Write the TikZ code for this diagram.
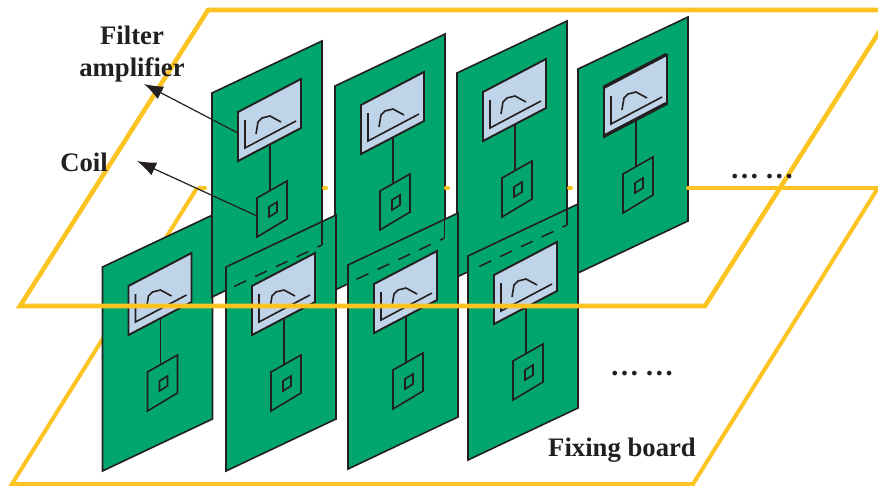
\documentclass[tikz,border=0pt]{standalone}
\usepackage{fontspec}
\setmainfont{Liberation Serif}
\usetikzlibrary{arrows.meta}
\definecolor{brdgreen}{HTML}{00A66C}
\definecolor{scrblue}{HTML}{BFD4E8}
\definecolor{sheetyel}{HTML}{FBC423}
\definecolor{inkblk}{HTML}{231F20}
\tikzset{
  boardface/.style={fill=brdgreen,draw=inkblk,line width=1.6pt,line join=miter},
  screenface/.style={fill=scrblue,draw=inkblk,line width=1.9pt,line join=miter},
  trace/.style={draw=inkblk,line width=1.6pt},
  sheet/.style={draw=sheetyel,line width=4pt,line join=miter},
  topsheet/.style={draw=sheetyel,line width=4.6pt,line join=miter},
  stub/.style={draw=sheetyel,line width=4pt,line cap=round},
  hidden/.style={draw=inkblk,line width=1.5pt,dash pattern=on 13pt off 10pt,dash phase=8pt},
  pointer/.style={draw=inkblk,line width=1.2pt,-{Latex[length=19pt,width=14pt]}},
  caption/.style={font=\fontsize{26.7}{28}\selectfont\bfseries,text=inkblk,inner sep=0pt,align=center},
  dots/.style={font=\fontsize{29}{30}\selectfont\bfseries,text=inkblk,inner sep=0pt}
}
\newcommand{\pcbboard}[2]{%
\begin{scope}[shift={(#1,#2)}]
  \path[boardface] (0,0) -- (110,-52) -- (110,152) -- (0,204) -- cycle;
  \path[screenface] (26,19) -- (89,-14) -- (89,35) -- (26,68) -- cycle;
  \path[trace] (33,27) -- (33,55) -- (84,28);
  \path[trace] (44,41) -- (46,29) -- (50,25) -- (58,23) -- (69,29);
  \path[trace] (58,51) -- (58,105);
  \path[trace,fill=brdgreen] (45,105) -- (75,88) -- (75,126) -- (45,144) -- cycle;
  \path[trace] (57,114) -- (65,109) -- (65,119) -- (57,124) -- cycle;
\end{scope}}
\begin{document}
\begin{tikzpicture}[x=1pt,y=-1pt]
\useasboundingbox (0,0) rectangle (878,485);
\clip (0,0) rectangle (878,485);
% lower sheet, behind the boards
\path[sheet] (197,188) -- (12,484) -- (693,484) -- (878,188);
\path[stub] (199,188) -- (205,188);
% boards
\pcbboard{102.5}{267}
\pcbboard{212}{93}
\pcbboard{335}{86}
\pcbboard{457}{73}
\pcbboard{578}{69}
\path[draw=inkblk,line width=2.2pt] (603,87) -- (666,54) (603,136) -- (666,103);
\pcbboard{226}{267}
\pcbboard{348}{265}
\pcbboard{468}{256}
% edges of the rear boards seen through the front ones
\coordinate (bra) at (322,245);
\coordinate (brb) at (444.5,238);
\coordinate (brc) at (567,225);
\coordinate (dea) at (233,287);
\coordinate (deb) at (355,280);
\coordinate (dec) at (475,268.5);
\path[draw=inkblk,line width=1.6pt] (322,205) -- (bra) (444.5,200) -- (brb) (567,190) -- (brc);
\path[hidden] (bra) -- (dea);
\path[hidden] (brb) -- (deb);
\path[hidden] (brc) -- (dec);
% lower sheet stubs in front
\path[stub] (324,188) -- (326,188);
\path[stub] (446,188) -- (448,188);
\path[stub] (569,188) -- (571,188);
\path[stub] (688,188) -- (878,188);
% upper sheet
\path[topsheet] (893,10) -- (208,10) -- (20,306) -- (705,306) -- (893,10);
% labels
\node[caption] (filterlabel) at (132,54) {Filter\\[4pt]amplifier};
\node[caption] (coillabel) at (84,162) {Coil};
\node[caption] (fixinglabel) at (622,450) {Fixing board};
\node[dots] (dotsup) at (762,176.5) {…\hspace{6pt}…};
\node[dots] (dotslow) at (642,373.5) {…\hspace{6pt}…};
% pointers
\coordinate (filterstart) at (238,133);
\coordinate (filtertip) at (144,84);
\coordinate (coilstart) at (257,216);
\coordinate (coiltip) at (137,161);
\draw[pointer] (filterstart) -- (filtertip);
\draw[pointer] (coilstart) -- (coiltip);
\end{tikzpicture}
\end{document}
